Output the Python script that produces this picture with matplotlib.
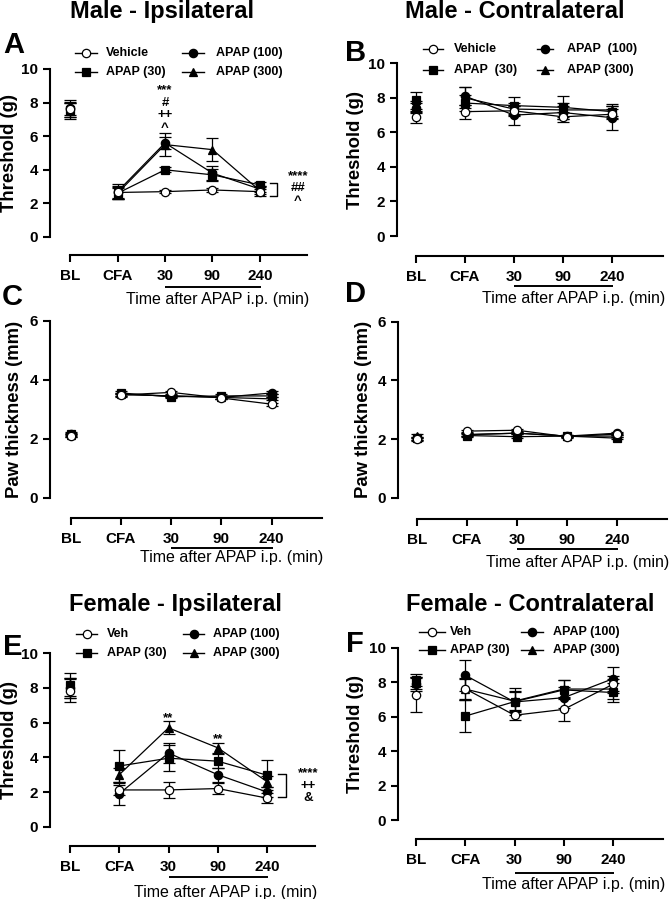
import matplotlib
matplotlib.use("Agg")
import matplotlib.pyplot as plt
from matplotlib.lines import Line2D

plt.rcParams['font.family'] = ['Liberation Sans', 'DejaVu Sans']

W, H = 669, 899

timepoints = ['BL', 'CFA', '30', '90', '240']
thr_ticks = [0, 2, 4, 6, 8, 10]
paw_ticks = [0, 2, 4, 6]

# rows: Vehicle, APAP (30), APAP (100), APAP (300)
male_ipsi_mean = [[7.6, 2.65, 2.70, 2.80, 2.70],
                  [7.55, 2.60, 4.00, 3.70, 3.10],
                  [7.7, 2.70, 5.60, 3.80, 2.85],
                  [7.5, 2.60, 5.50, 5.20, 2.75]]
male_ipsi_sem = [[0.45, 0.40, 0.10, 0.10, 0.15],
                 [0.40, 0.30, 0.15, 0.35, 0.15],
                 [0.45, 0.45, 0.35, 0.40, 0.20],
                 [0.50, 0.35, 0.70, 0.70, 0.30]]

male_contra_mean = [[6.90, 7.20, 7.25, 6.90, 7.05],
                    [7.85, 7.70, 7.55, 7.45, 7.20],
                    [7.40, 8.10, 7.00, 7.15, 6.85],
                    [7.50, 8.00, 7.35, 7.30, 7.30]]
male_contra_sem = [[0.35, 0.40, 0.30, 0.30, 0.30],
                   [0.50, 0.45, 0.50, 0.65, 0.35],
                   [0.30, 0.50, 0.55, 0.40, 0.70],
                   [0.30, 0.60, 0.35, 0.40, 0.35]]

paw_ipsi_mean = [[2.10, 3.48, 3.57, 3.38, 3.17],
                 [2.15, 3.55, 3.42, 3.45, 3.45],
                 [2.17, 3.50, 3.45, 3.40, 3.55],
                 [2.12, 3.50, 3.45, 3.40, 3.35]]
paw_ipsi_sem = [[0.05, 0.05, 0.04, 0.05, 0.05],
                [0.05, 0.05, 0.04, 0.05, 0.05],
                [0.05, 0.05, 0.04, 0.05, 0.05],
                [0.05, 0.05, 0.04, 0.05, 0.05]]

paw_contra_mean = [[2.00, 2.27, 2.30, 2.08, 2.17],
                   [2.02, 2.12, 2.08, 2.10, 2.03],
                   [2.03, 2.15, 2.20, 2.10, 2.20],
                   [2.10, 2.15, 2.20, 2.10, 2.10]]
paw_contra_sem = [[0.05, 0.04, 0.04, 0.04, 0.04],
                  [0.05, 0.04, 0.04, 0.04, 0.04],
                  [0.05, 0.04, 0.04, 0.04, 0.04],
                  [0.08, 0.04, 0.04, 0.04, 0.04]]

fem_ipsi_mean = [[7.85, 2.12, 2.12, 2.20, 1.65],
                 [8.15, 3.50, 3.95, 3.78, 2.97],
                 [8.00, 1.90, 4.25, 3.00, 2.00],
                 [8.05, 3.00, 5.70, 4.55, 2.60]]
fem_ipsi_sem = [[0.65, 0.30, 0.45, 0.30, 0.30],
                [0.70, 0.90, 0.75, 0.40, 0.85],
                [0.60, 0.62, 0.60, 0.40, 0.30],
                [0.50, 0.40, 0.38, 0.30, 0.30]]

fem_contra_mean = [[7.25, 7.62, 6.08, 6.42, 7.88],
                   [8.10, 6.03, 6.87, 7.55, 7.40],
                   [7.90, 8.40, 6.85, 7.10, 8.20],
                   [7.95, 7.60, 6.90, 7.60, 7.60]]
fem_contra_sem = [[1.00, 0.65, 0.30, 0.70, 0.50],
                  [0.35, 0.95, 0.80, 0.55, 0.55],
                  [0.40, 0.90, 0.60, 0.60, 0.70],
                  [0.35, 0.60, 0.60, 0.50, 0.60]]

# marker styles per group
styles = [dict(marker='o', ms=6.0, mfc='white'),
          dict(marker='s', ms=5.2, mfc='black'),
          dict(marker='o', ms=6.0, mfc='black'),
          dict(marker='^', ms=6.4, mfc='black')]

fig = plt.figure(figsize=(6.69, 8.99), dpi=100)


def px_text(x, y, s, **kw):
    return fig.text(x / W, 1 - y / H, s, **kw)


def px_line(x1, x2, y1, y2, **kw):
    fig.add_artist(Line2D([x1 / W, x2 / W], [1 - y1 / H, 1 - y2 / H],
                          transform=fig.transFigure, **kw))


def draw_panel(g, means, sems, ymax, ticks, ylabel, ul_off, tl_off):
    ux = (g['x4'] - g['xb']) / 4
    uy = (g['y0'] - g['yt']) / ymax
    x_lo = (g['xs'] - g['xb']) / ux
    x_hi = (g['xe'] - g['xb']) / ux
    y_lo = -(g['xax'] - g['y0']) / uy
    y_hi = ymax + 0.4
    top_px = g['y0'] - y_hi * uy
    ax = fig.add_axes([g['xs'] / W, 1 - g['xax'] / H,
                       (g['xe'] - g['xs']) / W, (g['xax'] - top_px) / H])
    ax.set_xlim(x_lo, x_hi)
    ax.set_ylim(y_lo, y_hi)
    ax.patch.set_visible(False)
    ax.spines['top'].set_visible(False)
    ax.spines['right'].set_visible(False)
    ax.spines['left'].set_bounds(0, ymax)
    ax.spines['bottom'].set_bounds(0, x_hi)
    for s in ['left', 'bottom']:
        ax.spines[s].set_linewidth(1.5)
    ax.set_xticks(range(len(timepoints)))
    ax.set_xticklabels(timepoints)
    ax.set_yticks(ticks)
    ax.set_yticklabels([str(t) for t in ticks])
    ax.tick_params(axis='x', direction='out', length=5.2, width=1.5, pad=5, labelsize=11)
    ax.tick_params(axis='y', direction='out', length=5, width=1.5, pad=3.5, labelsize=11)
    for lab in ax.get_xticklabels() + ax.get_yticklabels():
        lab.set_fontweight('bold')

    xs = list(range(len(timepoints)))
    for i in [3, 1, 2, 0]:
        st = styles[i]
        common = dict(color='black', mec='black', mew=0.9, marker=st['marker'],
                      ms=st['ms'], mfc=st['mfc'], elinewidth=0.9, capsize=4.6,
                      capthick=0.9, clip_on=False, zorder=10 if i == 0 else 3 + i)
        ax.errorbar(xs[:1], means[i][:1], yerr=sems[i][:1], ls='none', **common)
        ax.errorbar(xs[1:], means[i][1:], yerr=sems[i][1:], ls='-', lw=0.9, **common)

    # "time after APAP" underline and caption
    ax.plot([2, 4.02], [-(g['xax'] + ul_off - g['y0']) / uy] * 2, color='black',
            lw=1.4, clip_on=False, solid_capstyle='butt')
    px_text(g['xe'] + 2, g['xax'] + tl_off, 'Time after APAP i.p. (min)',
            ha='right', va='baseline', fontsize=11.5)
    px_text(g['lx'], (g['yt'] + g['y0']) / 2, ylabel, rotation=90, ha='center',
            va='center', fontsize=13.3, fontweight='bold')
    return ax


def legend(rows, c1, c2, labels):
    entries = [(c1, rows[0], 0), (c1, rows[1], 1), (c2, rows[0], 2), (c2, rows[1], 3)]
    for (x1, x2, xt), y, i in entries:
        st = styles[i]
        px_line(x1, x2, y, y, color='black', lw=1.0)
        fig.add_artist(Line2D([(x1 + x2) / 2 / W], [1 - y / H], transform=fig.transFigure,
                              marker=st['marker'], ms=st['ms'], mfc=st['mfc'],
                              mec='black', mew=0.9, ls='none'))
        px_text(xt, y, labels[i], ha='left', va='center', fontsize=9, fontweight='bold')


def bracket(ax, x1, x2, ya, yb):
    ax.plot([x1, x2, x2, x1], [ya, ya, yb, yb], color='black', lw=1.0, clip_on=False)


def marks(ax, x, y, s):
    # y is the baseline of the last line of the stack
    ax.text(x, y, s, ha='center', va='baseline', fontsize=9.5, fontweight='bold',
            linespacing=1.05)


thr_label = 'Threshold (g)'
paw_label = 'Paw thickness (mm)'

gA = dict(xs=50, xb=70, x4=260, xe=307, y0=237, yt=69, xax=255, lx=10)
gB = dict(xs=397, xb=416, x4=612, xe=663, y0=236, yt=63.3, xax=255.7, lx=355)
gC = dict(xs=50, xb=70.7, x4=271.7, xe=321.7, y0=497.7, yt=320.7, xax=518, lx=15)
gD = dict(xs=397.7, xb=417, x4=617, xe=667, y0=497.7, yt=321.7, xax=518.7, lx=364)
gE = dict(xs=50, xb=70, x4=267, xe=315, y0=826.7, yt=653.3, xax=845.7, lx=10)
gF = dict(xs=398, xb=416, x4=613, xe=663, y0=820, yt=647.7, xax=839, lx=355)

axA = draw_panel(gA, male_ipsi_mean, male_ipsi_sem, 10, thr_ticks, thr_label, 32, 49)
axB = draw_panel(gB, male_contra_mean, male_contra_sem, 10, thr_ticks, thr_label, 30, 47)
axC = draw_panel(gC, paw_ipsi_mean, paw_ipsi_sem, 6, paw_ticks, paw_label, 30, 44)
axD = draw_panel(gD, paw_contra_mean, paw_contra_sem, 6, paw_ticks, paw_label, 30.6, 48)
axE = draw_panel(gE, fem_ipsi_mean, fem_ipsi_sem, 10, thr_ticks, thr_label, 31, 51)
axF = draw_panel(gF, fem_contra_mean, fem_contra_sem, 10, thr_ticks, thr_label, 33.7, 50)

# legends
legend([53.3, 71.7], (75, 97, 106), (182, 204, 216),
       ['Vehicle', 'APAP (30)', 'APAP (100)', 'APAP (300)'])
legend([49.3, 70], (423, 443, 454), (537, 553, 567),
       ['Vehicle', 'APAP  (30)', 'APAP  (100)', 'APAP (300)'])
legend([634.3, 653.3], (76, 97, 107), (183, 204, 213),
       ['Veh', 'APAP (30)', 'APAP (100)', 'APAP (300)'])
legend([631.7, 650], (419, 445, 450), (521, 543, 553),
       ['Veh', 'APAP (30)', 'APAP (100)', 'APAP (300)'])

# titles and panel letters
px_text(162, 18.3, 'Male - Ipsilateral', ha='center', va='baseline', fontsize=17, fontweight='bold')
px_text(515, 18.3, 'Male - Contralateral', ha='center', va='baseline', fontsize=17, fontweight='bold')
px_text(175.5, 610.7, 'Female - Ipsilateral', ha='center', va='baseline', fontsize=17, fontweight='bold')
px_text(529.7, 610.7, 'Female - Contralateral', ha='center', va='baseline', fontsize=17, fontweight='bold')
for letter, x, y in [('A', 13.7, 53.3), ('B', 355.5, 61), ('C', 12.5, 305),
                     ('D', 355.5, 302), ('E', 12.5, 655), ('F', 355, 651.7)]:
    px_text(x, y, letter, ha='center', va='baseline', fontsize=21, fontweight='bold')

# significance marks, panel A
marks(axA, 2, 6.32, '***\n#\n++\n^')
bracket(axA, 4.21, 4.36, 3.23, 2.44)
marks(axA, 4.8, 1.98, '****\n##\n^')

# significance marks, panel E
marks(axE, 2, 6.11, '**')
marks(axE, 3, 4.86, '**')
bracket(axE, 4.22, 4.38, 3.02, 1.73)
marks(axE, 4.83, 1.48, '****\n++\n&')

fig.savefig('out.png', dpi=100)
